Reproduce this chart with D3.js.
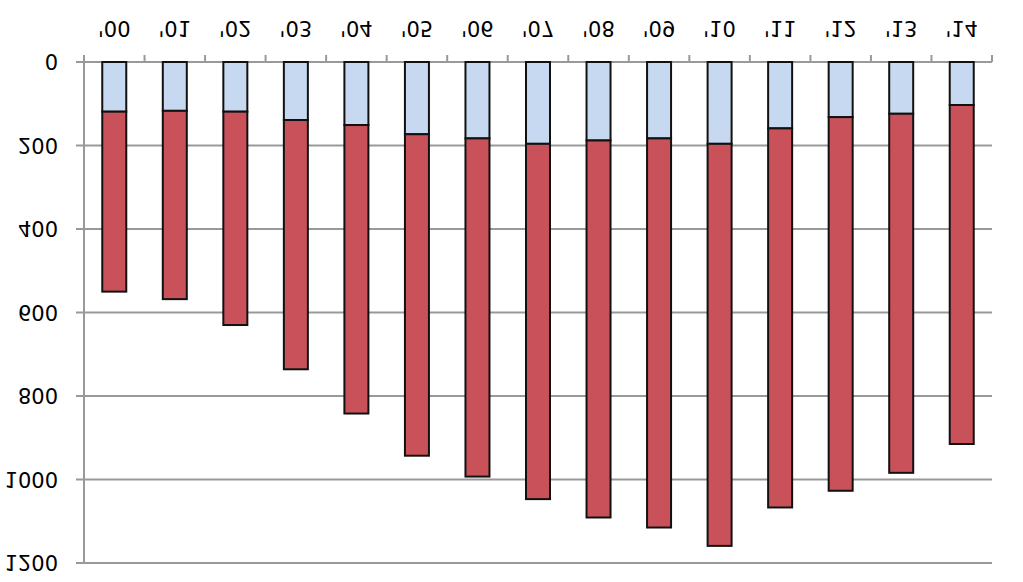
<!DOCTYPE html>
<html>
<head>
<meta charset="utf-8">
<script src="https://cdn.jsdelivr.net/npm/d3@7"></script>
<style>
  body { margin: 0; background: #fff; }
  text { font-family: "DejaVu Sans", Verdana, sans-serif; }
</style>
</head>
<body>
<svg></svg>
<script>
// years and the two stacked series (lower = light blue, upper = red)
var years = ["'00", "'01", "'02", "'03", "'04", "'05", "'06", "'07", "'08", "'09", "'10", "'11", "'12", "'13", "'14"];
var lower = [119, 117, 119, 139, 151, 173, 183, 196, 188, 183, 196, 159, 132, 124, 103];
var upper = [431, 451, 511, 597, 691, 770, 810, 851, 903, 932, 963, 908, 895, 860, 812];
var yTicks = [0, 200, 400, 600, 800, 1000, 1200];

let W = 1023, H = 582;
let svg = d3.select("svg")
  .attr("width", W)
  .attr("height", H);

// the whole chart is drawn upside down (mirrored top to bottom)
let g = svg.append("g")
  .attr("transform", `translate(0,${H}) scale(1,-1)`);

let x = d3.scaleBand()
  .domain(years)
  .range([84, 992])
  .paddingInner(0.6)
  .paddingOuter(0.3);

let y = d3.scaleLinear()
  .domain([0, 1200])
  .range([520, 19]);

let step = x.step();

// gridlines
g.append("g")
  .selectAll("line")
  .data(yTicks)
  .enter().append("line")
  .attr("x1", 76)
  .attr("x2", 992)
  .attr("y1", d => y(d))
  .attr("y2", d => y(d))
  .attr("stroke", "#999")
  .attr("stroke-width", 2);

// y axis line
g.append("line")
  .attr("x1", 84).attr("x2", 84)
  .attr("y1", y(0)).attr("y2", y(1200))
  .attr("stroke", "#999")
  .attr("stroke-width", 2);

// category ticks
g.append("g")
  .selectAll("line")
  .data(d3.range(years.length + 1))
  .enter().append("line")
  .attr("x1", i => 84 + i * step)
  .attr("x2", i => 84 + i * step)
  .attr("y1", y(0))
  .attr("y2", y(0) + 7)
  .attr("stroke", "#999")
  .attr("stroke-width", 2);

let rows = years.map((yr, i) => ({ year: yr, lower: lower[i], upper: upper[i] }));
let stack = d3.stack().keys(["lower", "upper"])(rows);
let colors = { lower: "#c6d9f1", upper: "#c9525a" };

g.append("g")
  .selectAll("g")
  .data(stack)
  .enter().append("g")
  .attr("fill", d => colors[d.key])
  .selectAll("rect")
  .data(d => d)
  .enter().append("rect")
  .attr("x", d => x(d.data.year) + (x.bandwidth() - 24) / 2)
  .attr("width", 24)
  .attr("y", d => y(d[1]))
  .attr("height", d => y(d[0]) - y(d[1]))
  .attr("stroke", "#111")
  .attr("stroke-width", 2);

// y labels
g.append("g")
  .selectAll("text")
  .data(yTicks)
  .enter().append("text")
  .attr("x", 58)
  .attr("y", d => y(d))
  .attr("dy", "0.36em")
  .attr("text-anchor", "end")
  .attr("font-size", 21)
  .attr("fill", "#000")
  .text(d => d);

// x labels
g.append("g")
  .selectAll("text")
  .data(years)
  .enter().append("text")
  .attr("x", d => x(d) + x.bandwidth() / 2)
  .attr("y", 561)
  .attr("text-anchor", "middle")
  .attr("font-size", 21)
  .attr("fill", "#000")
  .text(d => d);
</script>
</body>
</html>
